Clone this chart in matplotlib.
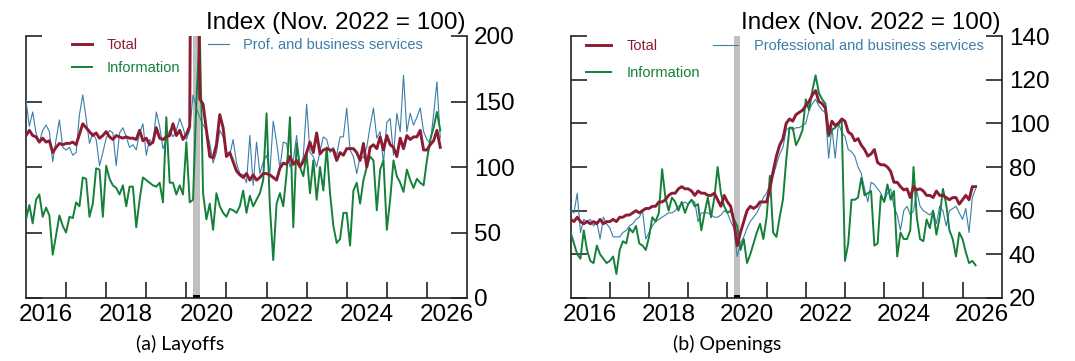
import matplotlib.pyplot as plt
import numpy as np

plt.rcParams['font.family'] = ['Liberation Sans', 'DejaVu Sans']

# monthly index values (Nov. 2022 = 100), Jan 2016 - May 2026
layoffs_total = [124, 128, 124, 123, 119, 122, 119, 120, 111, 115, 118, 117,
                 118, 118, 119, 117, 125, 133, 130, 127, 124, 126, 122, 124,
                 127, 123, 121, 124, 123, 122, 123, 122, 122, 121, 128, 120,
                 122, 117, 119, 130, 122, 121, 123, 124, 133, 124, 128, 121,
                 125, 131, 600, 400, 152, 148, 128, 108, 107, 117, 140, 130,
                 108, 111, 104, 97, 94, 92, 95, 90, 94, 90, 92, 95,
                 95, 94, 92, 90, 99, 103, 102, 108, 102, 105, 100, 104,
                 111, 119, 111, 126, 110, 113, 114, 113, 113, 105, 111, 109,
                 114, 114, 114, 111, 105, 118, 100, 115, 117, 114, 123, 113,
                 124, 117, 115, 108, 122, 114, 124, 121, 123, 123, 128, 113,
                 113, 117, 120, 128, 115]
layoffs_prof = [151, 131, 142, 126, 119, 128, 132, 127, 104, 121, 136, 115,
                113, 115, 109, 111, 140, 155, 137, 118, 126, 121, 101, 111,
                122, 128, 126, 101, 126, 130, 123, 115, 117, 113, 126, 133,
                109, 121, 118, 142, 131, 114, 121, 128, 123, 128, 137, 130,
                121, 128, 155, 145, 138, 132, 128, 118, 103, 111, 128, 123,
                111, 109, 121, 103, 95, 94, 88, 124, 86, 119, 95, 104,
                109, 96, 135, 119, 99, 119, 118, 100, 105, 124, 100, 108,
                148, 111, 108, 100, 112, 123, 121, 111, 115, 109, 123, 123,
                145, 113, 108, 95, 108, 107, 115, 131, 145, 122, 127, 103,
                134, 137, 109, 141, 127, 170, 127, 141, 132, 138, 145, 127,
                121, 118, 140, 165, 122]
layoffs_info = [60, 71, 57, 75, 79, 62, 69, 63, 33, 48, 63, 55,
                50, 62, 61, 73, 70, 92, 91, 62, 72, 99, 98, 62,
                101, 91, 86, 84, 79, 86, 70, 85, 85, 54, 75, 92,
                90, 88, 86, 85, 88, 73, 138, 88, 88, 79, 86, 79,
                119, 73, 75, 150, 205, 80, 60, 72, 52, 80, 70, 65,
                62, 68, 67, 65, 70, 82, 65, 78, 70, 75, 80, 90,
                141, 70, 29, 72, 80, 70, 95, 138, 54, 118, 100, 93,
                110, 80, 105, 75, 100, 82, 115, 80, 55, 42, 45, 65,
                65, 40, 82, 88, 72, 90, 100, 108, 105, 67, 98, 105,
                52, 75, 105, 93, 88, 81, 98, 90, 84, 91, 88, 86,
                105, 121, 130, 142, 128]

openings_total = [56, 55, 57, 55, 54, 55, 54, 55, 54, 56, 54, 55,
                  55, 56, 55, 57, 57, 58, 58, 59, 60, 59, 60, 61,
                  61, 62, 62, 64, 64, 65, 67, 68, 68, 70, 71, 70,
                  70, 69, 67, 69, 68, 68, 67, 67, 68, 65, 62, 67,
                  64, 62, 55, 44, 50, 55, 60, 62, 61, 62, 64, 64,
                  64, 70, 78, 85, 90, 93, 100, 102, 101, 104, 105, 106,
                  108, 110, 113, 115, 110, 109, 107, 95, 101, 99, 100, 102,
                  101, 96, 95, 92, 93, 90, 88, 85, 86, 88, 82, 81,
                  81, 80, 78, 73, 73, 71, 69.5, 70, 66, 71, 69.5, 70,
                  69, 67, 67, 66, 69, 67, 67, 66, 65, 66, 66, 63,
                  65, 67, 65, 71, 71]
openings_prof = [60, 59, 68, 50, 56, 55, 56, 53, 55, 47, 57, 54,
                 52, 48, 48, 48, 50, 51, 53, 54, 56, 57, 60, 47,
                 50, 53, 55, 56, 57, 58, 59, 59, 60, 62, 63, 64,
                 63, 65, 64, 55, 59, 59, 59, 58, 57, 57, 58, 60,
                 59, 55, 52, 39, 45, 48, 52, 55, 57, 59, 62, 66,
                 68, 72, 76, 81, 86, 89, 97, 98, 97, 98, 98, 99,
                 100, 106, 109, 111, 108, 106, 105, 84, 98, 84, 100, 96,
                 94, 88, 87, 85, 80, 77, 70, 64, 73, 72, 70, 68,
                 64, 68, 70, 62, 58, 51, 60, 62, 58, 60, 69, 62,
                 60, 59, 58, 60, 54, 62, 60, 53, 60, 61, 62, 59,
                 56, 61, 50, 66, 70]
openings_info = [50, 45, 40, 38, 51, 42, 37, 36, 44, 40, 38, 36,
                 37, 39, 31, 42, 46, 45, 52, 50, 53, 45, 44, 42,
                 48, 57, 55, 59, 79, 66, 60, 66, 64, 60, 64, 59,
                 63, 65, 62, 63, 51, 59, 66, 57, 66, 80, 68, 62,
                 59, 60, 56, 53, 42, 47, 36, 40, 45, 50, 54, 47,
                 57, 76, 50, 48, 57, 65, 83, 98, 98, 90, 93, 97,
                 111, 106, 115, 122, 114, 111, 109, 94, 97, 98, 100, 101,
                 37, 45, 65, 65, 66, 75, 67, 68, 69, 44, 45, 67,
                 64, 72, 65, 69, 39, 50, 47, 47, 51, 80, 57, 47,
                 46, 56, 52, 60, 49, 57, 70, 63, 51, 47, 39, 50,
                 47, 41, 36, 37, 35]

months = 2016 + np.arange(len(layoffs_total)) / 12
recession = (2020 + 2 / 12, 2020 + 4 / 12)
year_labels = ['2016', '2018', '2020', '2022', '2024', '2026']

c_total = '#8c1c33'
c_info = '#14803a'
c_prof = '#3a7eaa'
c_axis = '#222222'


def style_axes(ax, ymin, ymax, ystep):
    ax.set_xlim(2016, 2027)
    ax.set_ylim(ymin, ymax)
    ax.spines['top'].set_visible(False)
    for s in ['left', 'right', 'bottom']:
        ax.spines[s].set_linewidth(1.2)
        ax.spines[s].set_color(c_axis)
    ax.set_xticks(np.arange(2017, 2027))
    ax.set_xticklabels([])
    ax.set_xticks(np.arange(2016.5, 2027, 2), minor=True)
    ax.set_xticklabels(year_labels, minor=True)
    ax.tick_params(axis='x', which='major', direction='in', length=11.5,
                   width=1.2, color=c_axis)
    ax.tick_params(axis='x', which='minor', length=0, labelsize=17.5, pad=4)
    ax.set_yticks(np.arange(ymin, ymax + 1, ystep))
    ax.tick_params(axis='y', direction='in', length=11.5, width=1.2,
                   color=c_axis, left=True, right=True, labelleft=False,
                   labelright=True, labelsize=17.5, pad=5)
    ax.axvspan(recession[0], recession[1], color='#c0c0c0', lw=0, zorder=1)
    ax.axvspan(recession[0], recession[1], ymin=0, ymax=0.012,
               color='black', lw=0, zorder=2)
    ax.annotate('Index (Nov. 2022 = 100)', xy=(1, 1), xycoords='axes fraction',
                xytext=(-1, 1.5), textcoords='offset points', ha='right',
                va='bottom', fontsize=17.5)


fig = plt.figure(figsize=(10.75, 3.61), dpi=100)
ax1 = fig.add_axes([26 / 1075, 63 / 361, 441 / 1075, 262 / 361])
ax2 = fig.add_axes([570.7 / 1075, 63 / 361, 431 / 1075, 262 / 361])

# (a) Layoffs
style_axes(ax1, 0, 200, 50)
lp, = ax1.plot(months, layoffs_prof, color=c_prof, lw=0.8, zorder=3,
               label='Prof. and business services')
li, = ax1.plot(months, layoffs_info, color=c_info, lw=1.4, zorder=4,
               label='Information')
lt, = ax1.plot(months, layoffs_total, color=c_total, lw=2.1, zorder=5,
               label='Total')
leg = ax1.legend(handles=[lt, li], loc='upper left', bbox_to_anchor=(0.104, 0.992),
                 frameon=False, fontsize=10.5, handlelength=1.4,
                 handletextpad=1.0, labelspacing=0.62, borderpad=0,
                 borderaxespad=0, labelcolor='linecolor')
ax1.add_artist(leg)
ax1.legend(handles=[lp], loc='upper left', bbox_to_anchor=(0.413, 0.992),
           frameon=False, fontsize=10.5, handlelength=1.4, handletextpad=1.0,
           borderpad=0, borderaxespad=0, labelcolor='linecolor')

# (b) Openings
style_axes(ax2, 20, 140, 20)
rp, = ax2.plot(months, openings_prof, color=c_prof, lw=0.8, zorder=3,
               label='Professional and business services')
ri, = ax2.plot(months, openings_info, color=c_info, lw=1.4, zorder=4,
               label='Information')
rt, = ax2.plot(months, openings_total, color=c_total, lw=2.1, zorder=5,
               label='Total')
leg2 = ax2.legend(handles=[rt, ri], loc='upper left', bbox_to_anchor=(0.035, 0.989),
                  frameon=False, fontsize=10.5, handlelength=1.7,
                  handletextpad=1.1, labelspacing=0.9, borderpad=0,
                  borderaxespad=0, labelcolor='linecolor')
ax2.add_artist(leg2)
ax2.legend(handles=[rp], loc='upper left', bbox_to_anchor=(0.33, 0.989),
           frameon=False, fontsize=10.5, handlelength=1.7, handletextpad=1.1,
           borderpad=0, borderaxespad=0, labelcolor='linecolor')

fig.text(180 / 1075, 1 - 344 / 361, '(a) Layoffs', ha='center', va='center',
         fontsize=14, family=['Lato', 'DejaVu Sans'])
fig.text(727 / 1075, 1 - 344 / 361, '(b) Openings', ha='center', va='center',
         fontsize=14, family=['Lato', 'DejaVu Sans'])

fig.savefig('out.png', dpi=100)
